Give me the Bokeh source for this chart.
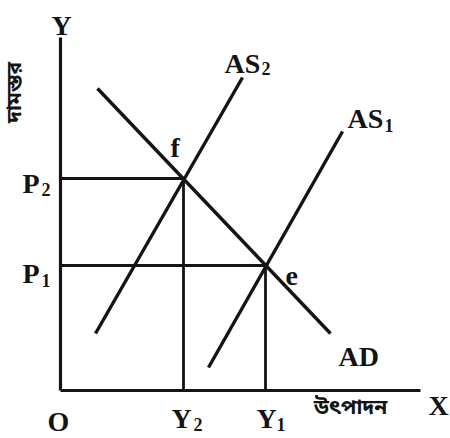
from bokeh.plotting import figure
from bokeh.models import Range1d
from bokeh.core.properties import value
from bokeh.embed import file_html
from bokeh.resources import INLINE
import math

# Equilibrium levels (output Y, price P)
output_levels = {"Y1": 20.5, "Y2": 12.3}
price_levels = {"P1": 12.5, "P2": 21.2}

# Aggregate demand and the two aggregate supply curves (end points)
ad_x = [3.7, 27.0]
ad_y = [30.2, 5.7]
as1_x = [14.8, 28.2]
as1_y = [2.3, 25.9]
as2_x = [3.5, 18.2]
as2_y = [5.7, 31.3]

# Axis extents
x_axis_end = 36.0
y_axis_end = 35.3

INK = "#141414"
SERIF = value("Liberation Serif")
BENGALI = value("Noto Sans Bengali, Noto Sans, sans-serif")

p = figure(width=450, height=438, output_backend="svg", toolbar_location=None,
           x_range=Range1d(-6.0, 39.0), y_range=Range1d(-4.8, 39.0),
           min_border=0)
p.axis.visible = False
p.grid.visible = False
p.outline_line_color = None
p.background_fill_color = "white"
p.border_fill_color = "white"

# Axes
p.line([0, 0], [0, y_axis_end], line_color=INK, line_width=3.2)
p.line([0, x_axis_end], [0, 0], line_color=INK, line_width=3.2)

# Curves
for xs, ys in ((ad_x, ad_y), (as1_x, as1_y), (as2_x, as2_y)):
    p.line(xs, ys, line_color=INK, line_width=3.4)

# Guide lines to the axes from the equilibria f (Y2,P2) and e (Y1,P1)
for yk, pk in (("Y2", "P2"), ("Y1", "P1")):
    xv, yv = output_levels[yk], price_levels[pk]
    p.line([0, xv], [yv, yv], line_color=INK, line_width=2.8)
    p.line([xv, xv], [0, yv], line_color=INK, line_width=2.8)


def px(X, Y):
    return (X - 60) / 10.0, (390 - Y) / 10.0


def label(txt, X, Y, size=28, sub=None, sub_x=0, sub_y=0, align="left"):
    x, y = px(X, Y)
    p.text([x], [y], text=[txt], text_font=SERIF, text_font_size=f"{size}px",
           text_font_style="bold", text_color=INK, text_align=align,
           text_baseline="alphabetic")
    if sub is not None:
        sx, sy = px(sub_x, sub_y)
        p.text([sx], [sy], text=[sub], text_font=SERIF, text_font_size="18px",
               text_font_style="bold", text_color=INK, text_align="left",
               text_baseline="alphabetic")


label("Y", 61, 25, align="center")
label("O", 58, 421, align="center")
label("X", 428, 405)
label("P", 22, 183, sub="2", sub_x=41, sub_y=189)
label("P", 22, 273, sub="1", sub_x=41, sub_y=280)
label("Y", 171, 418, sub="2", sub_x=193, sub_y=424)
label("Y", 256, 418, sub="1", sub_x=276, sub_y=424)
label("AS", 224, 63, sub="2", sub_x=261, sub_y=68)
label("AS", 347, 118, sub="1", sub_x=384, sub_y=125)
label("AD", 338, 356)
label("f", 170, 147)
label("e", 285, 275)

bx, by = px(350, 408)
p.text([bx], [by], text=["উৎপাদন"], text_font=BENGALI, text_font_size="21px",
       text_font_style="bold", text_color=INK, text_align="center",
       text_baseline="middle")
vx, vy = px(15, 92)
p.text([vx], [vy], text=["দামস্তর"], text_font=BENGALI, text_font_size="21px",
       text_font_style="bold", text_color=INK, text_align="center",
       text_baseline="middle", angle=math.pi / 2)

open("out.html", "w").write(file_html(p, INLINE))
